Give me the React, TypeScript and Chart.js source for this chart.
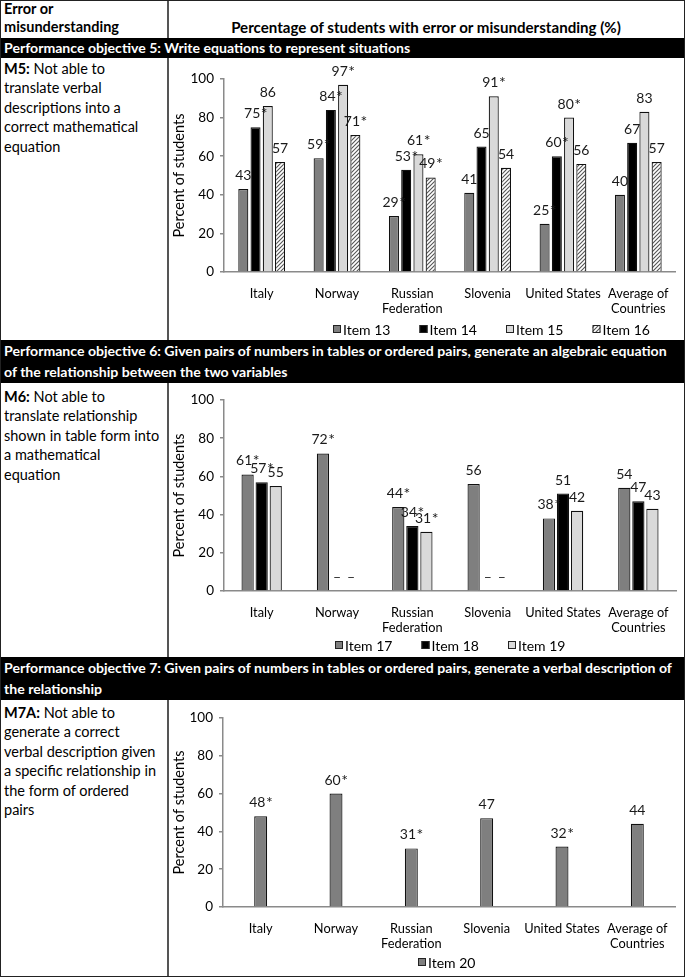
import React, { useEffect, useRef } from "react";
import { Chart, registerables } from "chart.js";

Chart.register(...registerables);

// ---------- DATA ----------
const countries: (string | string[])[] = [
  "Italy",
  "Norway",
  ["Russian", "Federation"],
  "Slovenia",
  "United States",
  ["Average of", "Countries"],
];
const yMin = 0;
const yMax = 100;
const yStep = 20;

const item13 = [43, 59, 29, 41, 25, 40];
const item13Star = [false, true, true, false, true, false];
const item14 = [75, 84, 53, 65, 60, 67];
const item14Star = [true, true, true, false, true, false];
const item15 = [86, 97, 61, 91, 80, 83];
const item15Star = [false, true, true, true, true, false];
const item16 = [57, 71, 49, 54, 56, 57];
const item16Star = [false, true, true, false, false, false];

const item17 = [61, 72, 44, 56, 38, 54];
const item17Star = [true, true, true, false, true, false];
const item18: (number | null)[] = [57, null, 34, null, 51, 47];
const item18Star = [true, false, true, false, false, false];
const item19: (number | null)[] = [55, null, 31, null, 42, 43];
const item19Star = [false, false, true, false, false, false];

const item20 = [48, 60, 31, 47, 32, 44];
const item20Star = [true, true, true, false, true, false];

// ---------- STYLE ----------
const FONT = "Lato";
const DARK = "#7f7f7f";
const BLACK = "#000000";
const LIGHT = "#d9d9d9";
const AXIS = "#8a8a8a";

function makeHatch(): CanvasPattern | string {
  const c = document.createElement("canvas");
  c.width = 4;
  c.height = 4;
  const g = c.getContext("2d");
  if (!g) return "#bbb";
  g.fillStyle = "#ffffff";
  g.fillRect(0, 0, 4, 4);
  g.strokeStyle = "#555555";
  g.lineWidth = 1.1;
  g.beginPath();
  g.moveTo(0, 4);
  g.lineTo(4, 0);
  g.moveTo(-1, 1);
  g.lineTo(1, -1);
  g.moveTo(3, 5);
  g.lineTo(5, 3);
  g.stroke();
  return g.createPattern(c, "repeat") || "#bbb";
}

type DS = { label: string; data: (number | null)[]; stars: boolean[]; fill: string | "hatch" };

type ChartProps = {
  datasets: DS[];
  width: number;
  height: number;
  padTop: number;
  padRight: number;
  yWidth: number;
  xHeight: number;
  catPct: number;
  barPct: number;
  legendX: number;
  legendY: number;
  legendGap: number;
};

function BarChart(p: ChartProps) {
  const ref = useRef<HTMLCanvasElement | null>(null);
  useEffect(() => {
    if (!ref.current) return;
    const hatch = makeHatch();
    const fills = p.datasets.map((d) => (d.fill === "hatch" ? hatch : d.fill));

    const valueLabels = {
      id: "valueLabels",
      afterDatasetsDraw(chart: any) {
        const ctx = chart.ctx;
        const zeroY = chart.scales.y.getPixelForValue(0);
        ctx.save();
        ctx.fillStyle = "#1a1a1a";
        ctx.textBaseline = "alphabetic";
        ctx.textAlign = "left";
        const numFont = `14px ${FONT}`;
        const starFont = `16px ${FONT}`;
        p.datasets.forEach((d, di) => {
          const meta = chart.getDatasetMeta(di);
          meta.data.forEach((el: any, i: number) => {
            const v = d.data[i];
            if (!isFinite(el.x)) return;
            if (v == null) {
              ctx.font = numFont;
              ctx.textAlign = "center";
              ctx.fillText("\u2013", el.x, zeroY - 9);
              ctx.textAlign = "left";
              return;
            }
            const num = String(v);
            ctx.font = numFont;
            const wn = ctx.measureText(num).width;
            let ws = 0;
            if (d.stars[i]) {
              ctx.font = starFont;
              ws = ctx.measureText("*").width;
            }
            const x0 = el.x - (wn + ws) / 2;
            const yb = el.y - 9;
            ctx.font = numFont;
            ctx.fillText(num, x0, yb);
            if (d.stars[i]) {
              ctx.font = starFont;
              ctx.fillText("*", x0 + wn + 0.5, yb + 1);
            }
          });
        });
        ctx.restore();
      },
    };

    const legendPlugin = {
      id: "customLegend",
      afterDraw(chart: any) {
        const ctx = chart.ctx;
        ctx.save();
        ctx.font = `14px ${FONT}`;
        ctx.textBaseline = "middle";
        ctx.textAlign = "left";
        p.datasets.forEach((d, i) => {
          const x = p.legendX + i * p.legendGap;
          const y = p.legendY;
          ctx.fillStyle = fills[i] as any;
          ctx.fillRect(x, y - 4, 8, 8);
          ctx.strokeStyle = "#222";
          ctx.lineWidth = 1;
          ctx.strokeRect(x + 0.5, y - 3.5, 7, 7);
          ctx.fillStyle = "#000";
          ctx.fillText(d.label, x + 10, y + 1);
        });
        ctx.restore();
      },
    };

    const chart = new Chart(ref.current, {
      type: "bar",
      data: {
        labels: countries,
        datasets: p.datasets.map((d, i) => ({
          label: d.label,
          data: d.data,
          backgroundColor: fills[i] as any,
          borderColor: "#111111",
          borderWidth: 1.2,
          categoryPercentage: p.catPct,
          barPercentage: p.barPct,
        })),
      },
      options: {
        responsive: false,
        animation: false,
        layout: { padding: { left: 0, right: p.padRight, top: p.padTop, bottom: 0 } },
        plugins: { legend: { display: false }, tooltip: { enabled: false } },
        scales: {
          x: {
            grid: { display: false, drawTicks: false },
            border: { display: true, color: AXIS, width: 1.5 },
            ticks: {
              color: "#000",
              font: { family: FONT, size: 12.8 },
              padding: 14,
              maxRotation: 0,
              autoSkip: false,
            },
            afterFit: (s: any) => {
              s.height = p.xHeight;
            },
          },
          y: {
            min: yMin,
            max: yMax,
            ticks: { stepSize: yStep, color: "#000", font: { family: FONT, size: 13.5 }, padding: 6 },
            grid: { drawOnChartArea: false, drawTicks: true, tickLength: 4, color: AXIS, lineWidth: 1.5 },
            border: { display: true, color: AXIS, width: 1.5 },
            title: {
              display: true,
              text: "Percent of students",
              color: "#000",
              font: { family: FONT, size: 14.5 },
              padding: { top: 2, bottom: 0 },
            },
            afterFit: (s: any) => {
              s.width = p.yWidth;
            },
          },
        },
      },
      plugins: [valueLabels, legendPlugin],
    });
    return () => chart.destroy();
  }, []);
  return <canvas ref={ref} width={p.width} height={p.height} style={{ display: "block" }} />;
}

const abs = (left: number, top: number, extra: React.CSSProperties = {}): React.CSSProperties => ({
  position: "absolute",
  left,
  top,
  ...extra,
});

export default function App() {
  const divider = (top: number, h: number) => (
    <div style={abs(167, top, { width: 1.5, height: h, background: "#555" })} />
  );
  const leftText: React.CSSProperties = {
    fontSize: 14.5,
    lineHeight: "19.4px",
    color: "#000",
    whiteSpace: "nowrap",
  };
  const band: React.CSSProperties = {
    width: 685,
    background: "#000",
    color: "#fff",
    fontWeight: 700,
    fontSize: 14.1,
    whiteSpace: "nowrap",
    boxSizing: "border-box",
    paddingLeft: 4,
  };
  return (
    <div
      style={{
        position: "absolute",
        left: 0,
        top: 0,
        width: 685,
        height: 977,
        background: "#fff",
        fontFamily: FONT,
        overflow: "hidden",
      }}
    >
      {/* header */}
      <div style={abs(4, 0, { fontWeight: 700, fontSize: 14.5, lineHeight: "18px", whiteSpace: "nowrap" })}>
        Error or
        <br />
        misunderstanding
      </div>
      <div
        style={abs(168, 18, {
          width: 516,
          textAlign: "center",
          fontWeight: 700,
          fontSize: 15.1,
          lineHeight: "18px",
          whiteSpace: "nowrap",
        })}
      >
        Percentage of students with error or misunderstanding (%)
      </div>
      {divider(0, 38)}

      {/* band 1 */}
      <div style={abs(0, 38, { ...band, height: 20, lineHeight: "20px" })}>
        Performance objective 5: Write equations to represent situations
      </div>
      {divider(58, 282)}
      <div style={abs(4, 59, leftText)}>
        <b>M5:</b> Not able to
        <br />
        translate verbal
        <br />
        descriptions into a
        <br />
        correct mathematical
        <br />
        equation
      </div>
      <div style={abs(169, 59)}>
        <BarChart
          datasets={[
            { label: "Item 13", data: item13, stars: item13Star, fill: DARK },
            { label: "Item 14", data: item14, stars: item14Star, fill: BLACK },
            { label: "Item 15", data: item15, stars: item15Star, fill: LIGHT },
            { label: "Item 16", data: item16, stars: item16Star, fill: "hatch" },
          ]}
          width={514}
          height={279}
          padTop={20}
          padRight={6}
          yWidth={55}
          xHeight={66}
          catPct={0.65}
          barPct={0.82}
          legendX={164}
          legendY={270}
          legendGap={86.5}
        />
      </div>

      {/* band 2 */}
      <div style={abs(0, 340, { ...band, height: 43, lineHeight: "20.5px", paddingTop: 1 })}>
        Performance objective 6: Given pairs of numbers in tables or ordered pairs, generate an algebraic equation
        <br />
        of the relationship between the two variables
      </div>
      {divider(383, 274)}
      <div style={abs(4, 387, leftText)}>
        <b>M6:</b> Not able to
        <br />
        translate relationship
        <br />
        shown in table form into
        <br />a mathematical
        <br />
        equation
      </div>
      <div style={abs(169, 384)}>
        <BarChart
          datasets={[
            { label: "Item 17", data: item17, stars: item17Star, fill: DARK },
            { label: "Item 18", data: item18, stars: item18Star, fill: BLACK },
            { label: "Item 19", data: item19, stars: item19Star, fill: LIGHT },
          ]}
          width={514}
          height={272}
          padTop={16}
          padRight={5}
          yWidth={55}
          xHeight={65}
          catPct={0.56}
          barPct={0.87}
          legendX={166}
          legendY={261}
          legendGap={86.5}
        />
      </div>

      {/* band 3 */}
      <div style={abs(0, 657, { ...band, height: 43, lineHeight: "20.5px", paddingTop: 1 })}>
        Performance objective 7: Given pairs of numbers in tables or ordered pairs, generate a verbal description of
        <br />
        the relationship
      </div>
      {divider(700, 277)}
      <div style={abs(4, 703, leftText)}>
        <b>M7A:</b> Not able to
        <br />
        generate a correct
        <br />
        verbal description given
        <br />a specific relationship in
        <br />
        the form of ordered
        <br />
        pairs
      </div>
      <div style={abs(169, 701)}>
        <BarChart
          datasets={[{ label: "Item 20", data: item20, stars: item20Star, fill: DARK }]}
          width={514}
          height={275}
          padTop={17}
          padRight={8}
          yWidth={54}
          xHeight={69}
          catPct={0.2}
          barPct={0.86}
          legendX={249}
          legendY={261}
          legendGap={86}
        />
      </div>

      {/* outer border */}
      <div
        style={abs(0, 0, {
          width: 685,
          height: 977,
          boxSizing: "border-box",
          border: "1.5px solid #222",
          pointerEvents: "none",
        })}
      />
    </div>
  );
}
